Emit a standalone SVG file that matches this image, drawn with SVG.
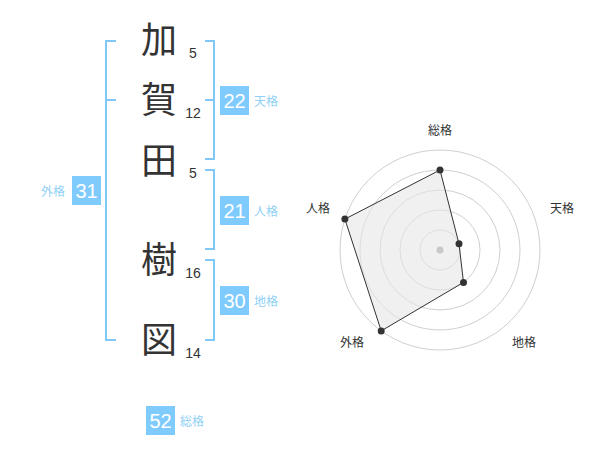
<svg xmlns="http://www.w3.org/2000/svg" width="600" height="470" viewBox="0 0 600 470">
<style>
.kanji{font-family:"Noto Sans CJK JP","Noto Sans CJK SC",sans-serif;font-size:36px;fill:#333;text-anchor:middle}
.stroke{font-family:"Liberation Sans",Arial,sans-serif;font-size:14px;fill:#333;text-anchor:middle}
.br{fill:none;stroke:#80c8f8;stroke-width:2}
.box{fill:#80cbfd}
.num{font-family:"Liberation Sans",Arial,sans-serif;font-size:20px;fill:#fff;text-anchor:middle}
.lbl{font-family:"Noto Sans CJK JP","Noto Sans CJK SC",sans-serif;font-size:12px;fill:#8fd0f5}
.ring{fill:none;stroke:#cfcfcf;stroke-width:1}
.ax{font-family:"Noto Sans CJK JP","Noto Sans CJK SC",sans-serif;font-size:12px;fill:#333;text-anchor:middle}
</style>
<rect width="600" height="470" fill="#fff"/>
<g id="chars">
<text class="kanji" x="159" y="53">加</text>
<text class="kanji" x="159" y="113">賀</text>
<text class="kanji" x="159" y="174">田</text>
<text class="kanji" x="159" y="273">樹</text>
<text class="kanji" x="159" y="353">図</text>
<text class="stroke" x="193" y="58">5</text>
<text class="stroke" x="193" y="118">12</text>
<text class="stroke" x="193" y="178">5</text>
<text class="stroke" x="193" y="278">16</text>
<text class="stroke" x="193" y="358">14</text>
</g>
<g id="connectors">
<path class="br" d="M116,41 H106 V340 H116 M106,100 H116"/>
<path class="br" d="M205,41 H214 V159 H205 M205,100 H214"/>
<path class="br" d="M205,170 H214 V249 H205"/>
<path class="br" d="M205,260 H214 V340 H205"/>
</g>
<g id="tenkaku">
<rect class="box" x="220" y="86" width="29" height="29"/>
<text class="num" x="234.5" y="107.5">22</text>
<text class="lbl" x="254" y="106">天格</text>
</g>
<g id="jinkaku">
<rect class="box" x="220" y="196" width="29" height="29"/>
<text class="num" x="234.5" y="217.5">21</text>
<text class="lbl" x="254" y="216">人格</text>
</g>
<g id="chikaku">
<rect class="box" x="220" y="286" width="29" height="29"/>
<text class="num" x="234.5" y="307.5">30</text>
<text class="lbl" x="254" y="306">地格</text>
</g>
<g id="gaikaku">
<rect class="box" x="72" y="176" width="29" height="29"/>
<text class="num" x="86.5" y="197.5">31</text>
<text class="lbl" x="65" y="196" text-anchor="end">外格</text>
</g>
<g id="soukaku">
<rect class="box" x="146" y="406" width="29" height="29"/>
<text class="num" x="160.5" y="427.5">52</text>
<text class="lbl" x="180" y="426">総格</text>
</g>
<g id="radar">
<circle class="ring" cx="440" cy="250" r="20"/>
<circle class="ring" cx="440" cy="250" r="40"/>
<circle class="ring" cx="440" cy="250" r="60"/>
<circle class="ring" cx="440" cy="250" r="80"/>
<circle class="ring" cx="440" cy="250" r="100"/>
<polygon points="440,170 459,243.8 463.5,282.4 381.2,330.9 344.9,219.1" fill="#e6e6e6" fill-opacity="0.6" stroke="#333" stroke-width="1"/>
<circle cx="440" cy="250" r="3.5" fill="#c8c8c8"/>
<circle cx="440" cy="170" r="3.5" fill="#333"/>
<circle cx="459" cy="243.8" r="3.5" fill="#333"/>
<circle cx="463.5" cy="282.4" r="3.5" fill="#333"/>
<circle cx="381.2" cy="330.9" r="3.5" fill="#333"/>
<circle cx="344.9" cy="219.1" r="3.5" fill="#333"/>
<text class="ax" x="440" y="135">総格</text>
<text class="ax" x="562" y="213">天格</text>
<text class="ax" x="524" y="347">地格</text>
<text class="ax" x="352" y="347">外格</text>
<text class="ax" x="318" y="213">人格</text>
</g>
</svg>
